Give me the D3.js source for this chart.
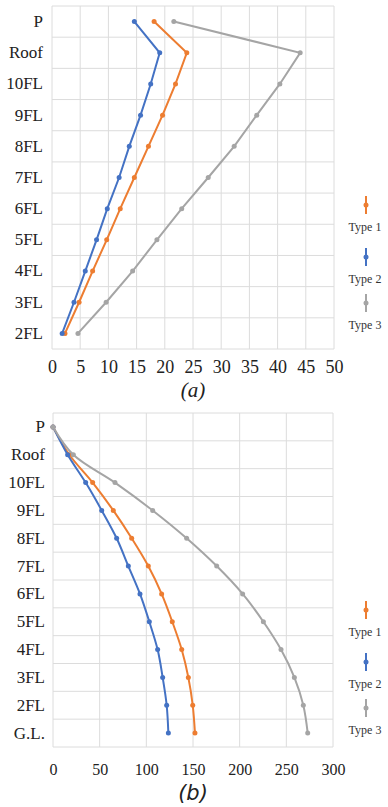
<!DOCTYPE html>
<html>
  <head>
    <meta http-equiv="Content-Type" content="text/html;charset=utf-8" />
    <title>Storey profiles</title>
    <script type="text/javascript" src="https://d3js.org/d3.v7.min.js"></script>
    <style>
      body { margin: 0; background: #fff; }
      svg { display: block; }
      .serif { font-family: "Liberation Serif", "Times New Roman", "DejaVu Serif", serif; }
    </style>
  </head>
  <body>
    <div id="chart"></div>

    <script type="text/javascript">
      // chart (a)
      var floorsA = ["P", "Roof", "10FL", "9FL", "8FL", "7FL", "6FL", "5FL", "4FL", "3FL", "2FL"];
      var type1A = [18.1, 23.9, 21.9, 19.6, 17.1, 14.6, 12.1, 9.7, 7.2, 4.8, 2.3];
      var type2A = [14.6, 19.1, 17.5, 15.7, 13.7, 11.9, 9.8, 7.9, 5.9, 3.9, 1.8];
      var type3A = [21.6, 44.0, 40.4, 36.3, 32.3, 27.7, 23.0, 18.6, 14.3, 9.6, 4.6];
      var ticksA = [0, 5, 10, 15, 20, 25, 30, 35, 40, 45, 50];

      // chart (b)
      var floorsB = ["P", "Roof", "10FL", "9FL", "8FL", "7FL", "6FL", "5FL", "4FL", "3FL", "2FL", "G.L."];
      var type1B = [0, 17.5, 42.5, 64.6, 84.3, 102.1, 116.4, 127.8, 137.9, 145.0, 149.7, 152.1];
      var type2B = [0, 15.7, 35.0, 52.2, 68.2, 80.7, 93.2, 103.2, 112.1, 117.5, 121.8, 123.6];
      var type3B = [0, 21.8, 66.4, 106.8, 143.2, 175.4, 203.2, 225.4, 244.3, 258.6, 268.2, 272.9];
      var ticksB = [0, 50, 100, 150, 200, 250, 300];

      var seriesNames = ["Type 1", "Type 2", "Type 3"];
      var colors = ["#ED7D31", "#4472C4", "#A5A5A5"];

      var svg = d3
        .select("#chart")
        .append("svg")
        .attr("width", 388)
        .attr("height", 807);

      svg.append("rect")
        .attr("width", 388)
        .attr("height", 807)
        .attr("fill", "#fff");

      function drawPanel(opts) {
        var g = svg.append("g");

        var x = d3.scaleLinear()
          .domain([0, d3.max(opts.ticks)])
          .range([opts.left, opts.right]);

        var y = d3.scaleBand()
          .domain(opts.floors)
          .range([opts.top, opts.bottom]);

        // vertical grid
        g.selectAll(".vgrid")
          .data(opts.ticks)
          .enter()
          .append("line")
          .attr("x1", d => x(d))
          .attr("x2", d => x(d))
          .attr("y1", opts.top)
          .attr("y2", opts.bottom)
          .attr("stroke", "#dcdcdc")
          .attr("stroke-width", 1);

        // horizontal grid (band edges)
        var edges = opts.floors.map(f => y(f)).concat([opts.bottom]);
        g.selectAll(".hgrid")
          .data(edges)
          .enter()
          .append("line")
          .attr("x1", opts.left)
          .attr("x2", opts.right)
          .attr("y1", d => d)
          .attr("y2", d => d)
          .attr("stroke", "#dcdcdc")
          .attr("stroke-width", 1);

        // y labels
        var yAxis = d3.axisLeft(y).tickSize(0).tickPadding(0);
        var gY = g.append("g")
          .attr("transform", "translate(" + opts.labelX + ",0)")
          .call(yAxis)
          .attr("font-family", null);
        gY.select(".domain").remove();
        gY.selectAll("text")
          .attr("class", "serif")
          .style("font-size", "17px")
          .attr("fill", "#222");

        // x labels
        var xAxis = d3.axisBottom(x).tickValues(opts.ticks).tickSize(0).tickPadding(0);
        var gX = g.append("g")
          .attr("transform", "translate(0," + opts.xLabelY + ")")
          .call(xAxis)
          .attr("font-family", null);
        gX.select(".domain").remove();
        gX.selectAll("text")
          .attr("dy", "0")
          .attr("class", "serif")
          .style("font-size", opts.xFont)
          .attr("fill", "#222");

        var line = d3.line()
          .x(d => x(d.v))
          .y(d => y(d.f) + y.bandwidth() / 2)
          .curve(opts.curve);

        opts.series.forEach(function(vals, i) {
          var pts = vals.map((v, j) => ({ f: opts.floors[j], v: v }));
          g.append("path")
            .datum(pts)
            .attr("d", line)
            .attr("fill", "none")
            .attr("stroke", colors[i])
            .attr("stroke-width", 2);
          g.selectAll(".dot" + i)
            .data(pts)
            .enter()
            .append("circle")
            .attr("cx", d => x(d.v))
            .attr("cy", d => y(d.f) + y.bandwidth() / 2)
            .attr("r", 2.5)
            .attr("fill", colors[i]);
        });

        // legend
        seriesNames.forEach(function(name, i) {
          var cy = opts.legendY[i];
          g.append("line")
            .attr("x1", 366).attr("x2", 366)
            .attr("y1", cy - 9).attr("y2", cy + 9)
            .attr("stroke", colors[i])
            .attr("stroke-width", 2);
          g.append("circle")
            .attr("cx", 366).attr("cy", cy)
            .attr("r", 2.5)
            .attr("fill", colors[i]);
          g.append("text")
            .attr("class", "serif")
            .attr("x", 365)
            .attr("y", cy + 26)
            .attr("text-anchor", "middle")
            .style("font-size", "12px")
            .attr("fill", "#333")
            .text(name);
        });

        g.append("text")
          .attr("x", 193)
          .attr("y", opts.captionY)
          .attr("text-anchor", "middle")
          .style("font-family", opts.captionFont)
          .style("font-style", "italic")
          .style("font-size", "21px")
          .attr("fill", "#222")
          .text(opts.caption);
      }

      drawPanel({
        floors: floorsA,
        series: [type1A, type2A, type3A],
        ticks: ticksA,
        left: 52, right: 334, top: 6, bottom: 349,
        labelX: 43,
        xLabelY: 373,
        xFont: "18px",
        curve: d3.curveLinear,
        legendY: [205, 257, 303],
        caption: "(a)",
        captionY: 397,
        captionFont: "'Liberation Serif', 'Times New Roman', serif"
      });

      drawPanel({
        floors: floorsB,
        series: [type1B, type2B, type3B],
        ticks: ticksB,
        left: 53, right: 333, top: 413, bottom: 747,
        labelX: 45,
        xLabelY: 775,
        xFont: "16px",
        curve: d3.curveCatmullRom.alpha(0.5),
        legendY: [610, 662, 708],
        caption: "(b)",
        captionY: 800,
        captionFont: "'DejaVu Sans', sans-serif"
      });
    </script>
  </body>
</html>
